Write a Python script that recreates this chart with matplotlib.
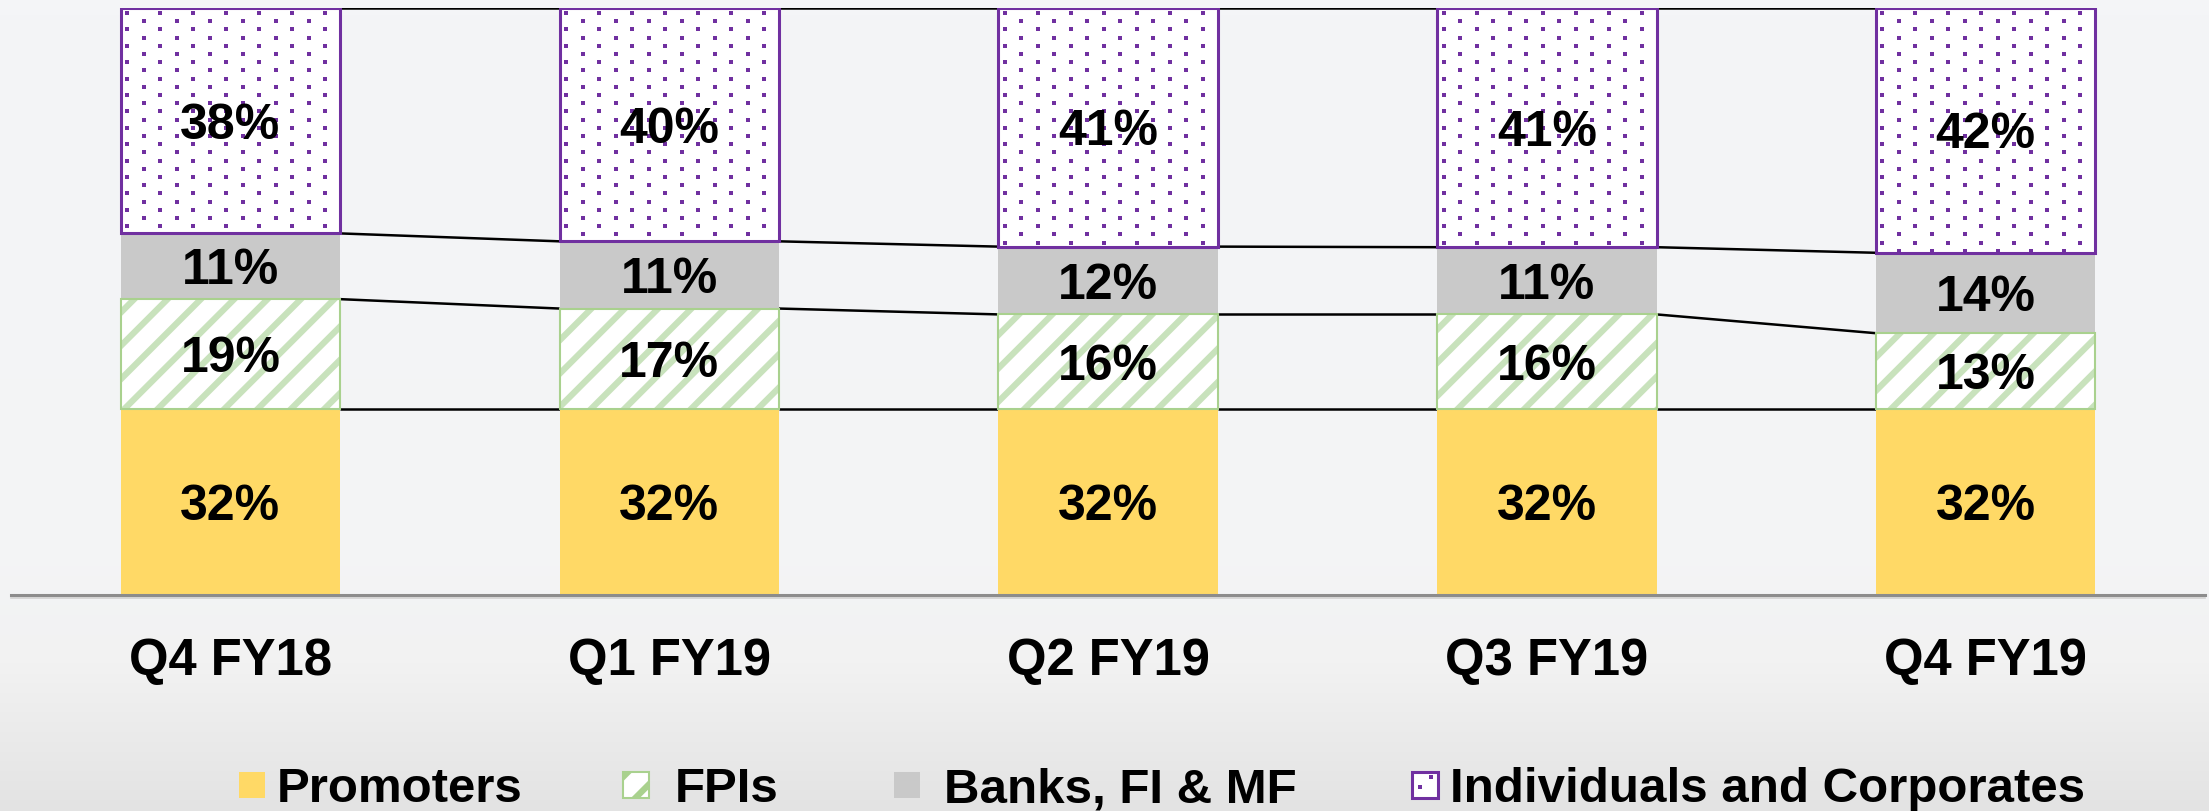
import matplotlib.pyplot as plt
import numpy as np
from matplotlib.patches import Rectangle
from matplotlib.colors import LinearSegmentedColormap

plt.rcParams['font.family'] = ['Liberation Sans', 'DejaVu Sans']
plt.rcParams['hatch.linewidth'] = 4.5

quarters = ["Q4 FY18", "Q1 FY19", "Q2 FY19", "Q3 FY19", "Q4 FY19"]
promoters = [31.7, 31.7, 31.7, 31.7, 31.7]
fpis = [18.7, 17.1, 16.1, 16.1, 12.9]
banks = [11.2, 11.45, 11.55, 11.45, 13.7]
individuals = [38.4, 39.75, 40.65, 40.75, 41.7]
series_names = ["Promoters", "FPIs", "Banks, FI & MF", "Individuals and Corporates"]

YELLOW = "#ffd966"
GREEN_H = "#c8e2bc"
GREEN_E = "#a9d18e"
GREY = "#c9c9c9"
PURPLE = "#7030a0"

W, H = 2209, 811
fig = plt.figure(figsize=(W / 100, H / 100), dpi=100)

# background gradient
bg = fig.add_axes([0, 0, 1, 1], zorder=-10)
grad = np.concatenate([np.linspace(0, 0.15, 560), np.linspace(0.15, 1, 251)])[:, None]
cmap = LinearSegmentedColormap.from_list("bg", ["#f4f5f7", "#f2f2f2", "#e3e3e3"])
bg.imshow(grad, aspect="auto", cmap=cmap, extent=[0, 1, 0, 1], vmin=0, vmax=1)
bg.axis("off")

ax = fig.add_axes([11 / W, (H - 595) / H, 2194 / W, 587 / H])
ax.set_facecolor("none")
x = np.arange(len(quarters))
bw = 0.5

prom = np.array(promoters)
fpi = np.array(fpis)
bnk = np.array(banks)
ind = np.array(individuals)
b1 = prom
b2 = prom + fpi
b3 = b2 + bnk
b4 = b3 + ind

ax.bar(x, prom, bw, color=YELLOW, zorder=2)
ax.bar(x, fpi, bw, bottom=b1, color="white", edgecolor=GREEN_H, hatch="/", linewidth=0, zorder=2)
ax.bar(x, fpi, bw, bottom=b1, fill=False, edgecolor=GREEN_E, linewidth=1.5, zorder=3)
ax.bar(x, bnk, bw, bottom=b2, color=GREY, zorder=2)
ind_bars = ax.bar(x, ind, bw, bottom=b3, color="white", edgecolor=PURPLE, linewidth=2.2, zorder=3)

# dotted texture inside the individuals bars
dx = 33 / 438.8
dy = 8.2 / 5.87
for rect in ind_bars:
    x0, y0 = rect.get_x(), rect.get_y()
    w, h = rect.get_width(), rect.get_height()
    rows = np.arange(y0 + h - 0.6 * dy, y0, -dy)
    px, py = [], []
    for k, yy in enumerate(rows):
        off = 0.015 + (dx / 2 if k % 2 else 0)
        cols = np.arange(x0 + off, x0 + w, dx)
        px.extend(cols)
        py.extend([yy] * len(cols))
    sc = ax.scatter(px, py, s=10, marker="s", color=PURPLE, linewidths=0, zorder=4)
    sc.set_clip_path(rect)

# series lines between bars
for lvl in [b1, b2, b3, b4]:
    for i in range(len(x) - 1):
        ax.plot([x[i] + bw / 2, x[i + 1] - bw / 2], [lvl[i], lvl[i + 1]],
                color="black", lw=1.8, zorder=1, solid_capstyle="butt")

# data labels
for vals, bottoms in [(prom, np.zeros(5)), (fpi, b1), (bnk, b2), (ind, b3)]:
    for i in range(len(x)):
        ax.text(x[i], bottoms[i] + vals[i] / 2, f"{vals[i]:.0f}%", ha="center",
                va="center_baseline", fontsize=36, fontweight="bold", zorder=5)

ax.set_xlim(-0.5, 4.5)
ax.set_ylim(0, 100)
ax.set_yticks([])
ax.set_xticks(x)
ax.set_xticklabels(quarters, fontsize=36.5, fontweight="bold")
ax.tick_params(axis="x", length=0, pad=30)
for s in ["top", "left", "right"]:
    ax.spines[s].set_visible(False)
ax.spines["bottom"].set_color("#8c8c8c")
ax.spines["bottom"].set_linewidth(2.2)
ax.axhline(-0.45, color="#d2d2d2", lw=1.2, zorder=0, clip_on=False)

# legend
leg_y = 785
msz = 26
markers = [239, 623, 894, 1412]
texts = [277, 675, 944, 1450]
styles = [
    dict(facecolor=YELLOW, edgecolor="none"),
    dict(facecolor="white", edgecolor=GREEN_E, hatch="/", linewidth=1.5),
    dict(facecolor=GREY, edgecolor="none"),
    dict(facecolor="white", edgecolor=PURPLE, linewidth=2.2),
]
for name, mx, tx, st in zip(series_names, markers, texts, styles):
    r = Rectangle((mx / W, (H - leg_y - msz / 2) / H), msz / W, msz / H,
                  transform=fig.transFigure, **st)
    fig.add_artist(r)
    fig.text(tx / W, (H - leg_y) / H, name, fontsize=35.5, fontweight="bold",
             va="center_baseline", ha="left")
# a couple of dots inside the individuals legend swatch
fig.add_artist(Rectangle(((markers[3] + 6) / W, (H - leg_y - 4) / H), 4 / W, 4 / H,
                         transform=fig.transFigure, facecolor=PURPLE, edgecolor="none"))
fig.add_artist(Rectangle(((markers[3] + 17) / W, (H - leg_y + 6) / H), 4 / W, 4 / H,
                         transform=fig.transFigure, facecolor=PURPLE, edgecolor="none"))

fig.savefig("out.png", dpi=100)
